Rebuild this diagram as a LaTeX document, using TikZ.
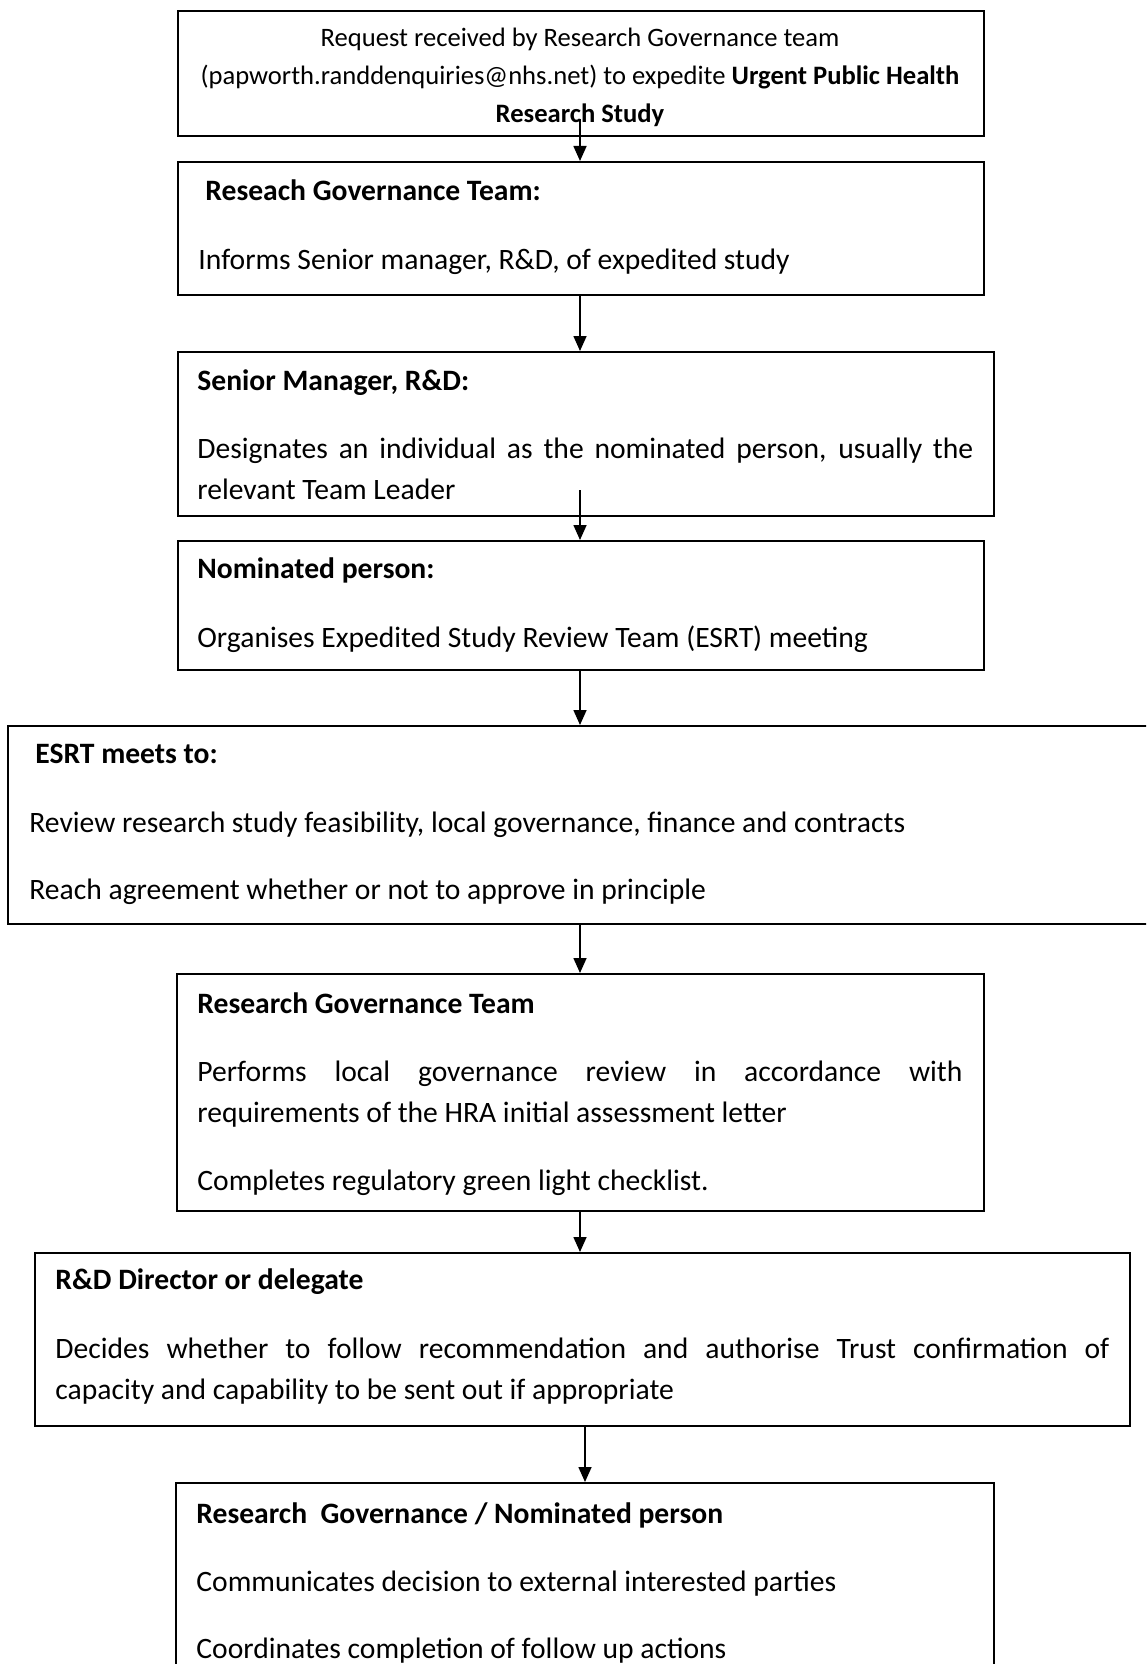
\documentclass[tikz,border=0pt]{standalone}
\usepackage{fontspec}
\setmainfont{Carlito}
\usetikzlibrary{arrows.meta}
\begin{document}
\begin{tikzpicture}[x=0.5pt,y=-0.5pt,
  box/.style={draw, line width=1pt, rectangle, inner sep=0},
  txt/.style={anchor=base west, inner sep=0, font=\fontsize{14.8}{17}\selectfont},
  ctxt/.style={anchor=base, inner sep=0, font=\fontsize{13.3}{15}\selectfont},
  arr/.style={line width=0.8pt, -{Triangle[length=7.5pt,width=6.5pt]}}]
\useasboundingbox (0,0) rectangle (1146,1664);
\clip (0,0) rectangle (1146,1664);
\fill[white] (0,0) rectangle (1146,1664);
% boxes
\node[box, minimum width=403pt, minimum height=62.5pt] (b1) at (581,73.5) {};
\node[box, minimum width=403pt, minimum height=66.5pt] (b2) at (581,228.5) {};
\node[box, minimum width=408pt, minimum height=82pt] (b3) at (586,434) {};
\node[box, minimum width=403pt, minimum height=64.5pt] (b4) at (581,605.5) {};
\node[box, minimum width=576pt, minimum height=99pt] (b5) at (584,825) {};
\node[box, minimum width=403.5pt, minimum height=118.5pt] (b6) at (580.5,1092.5) {};
\node[box, minimum width=547.5pt, minimum height=86.5pt] (b7) at (582.5,1339.5) {};
\node[box, minimum width=409pt, minimum height=98.5pt] (b8) at (585,1581.5) {};
% texts
\node[ctxt] (t1a) at (580,47) {Request received by Research Governance team};
\node[ctxt] (t1b) at (580,85) {(papworth.randdenquiries@nhs.net) to expedite \textbf{Urgent Public Health}};
\node[ctxt] (t1c) at (580,123) {\textbf{Research Study}};
\node[txt] (t2a) at (205,201) {\textbf{Reseach Governance Team:}};
\node[txt] (t2b) at (198,270) {Informs Senior manager, R\&D, of expedited study};
\node[txt] (t3a) at (197,390) {\textbf{Senior Manager, R\&D:}};
\node[txt] (t3b) at (197,458) {\makebox[388pt][s]{Designates an individual as the nominated person, usually the}};
\node[txt] (t3c) at (197,499) {relevant Team Leader};
\node[txt] (t4a) at (197,578) {\textbf{Nominated person:}};
\node[txt] (t4b) at (197,647) {Organises Expedited Study Review Team (ESRT) meeting};
\node[txt] (t5a) at (35,763) {\textbf{ESRT meets to:}};
\node[txt] (t5b) at (29,832) {Review research study feasibility, local governance, finance and contracts};
\node[txt] (t5c) at (29,899) {Reach agreement whether or not to approve in principle};
\node[txt] (t6a) at (197,1013) {\textbf{Research Governance Team}};
\node[txt] (t6b) at (197,1081) {\makebox[382.5pt][s]{Performs local governance review in accordance with}};
\node[txt] (t6c) at (197,1122) {requirements of the HRA initial assessment letter};
\node[txt] (t6d) at (197,1190) {Completes regulatory green light checklist.};
\node[txt] (t7a) at (55,1289) {\textbf{R\&D Director or delegate}};
\node[txt] (t7b) at (55,1358) {\makebox[527pt][s]{Decides whether to follow recommendation and authorise Trust confirmation of}};
\node[txt] (t7c) at (55,1399) {capacity and capability to be sent out if appropriate};
\node[txt] (t8a) at (196,1523) {\textbf{Research\ \ Governance / Nominated person}};
\node[txt] (t8b) at (196,1591) {Communicates decision to external interested parties};
\node[txt] (t8c) at (196,1658) {Coordinates completion of follow up actions};
% connectors
\coordinate (ax) at (580,0);
\coordinate (ay) at (585,0);
\coordinate (s1) at (580,119);
\coordinate (s3) at (580,490);
\draw[arr] (s1) -- (b2.north -| ax);
\draw[arr] (b2.south -| ax) -- (b3.north -| ax);
\draw[arr] (s3) -- (b4.north -| ax);
\draw[arr] (b4.south -| ax) -- (b5.north -| ax);
\draw[arr] (b5.south -| ax) -- (b6.north -| ax);
\draw[arr] (b6.south -| ax) -- (b7.north -| ax);
\draw[arr] (b7.south -| ay) -- (b8.north -| ay);
\end{tikzpicture}
\end{document}
